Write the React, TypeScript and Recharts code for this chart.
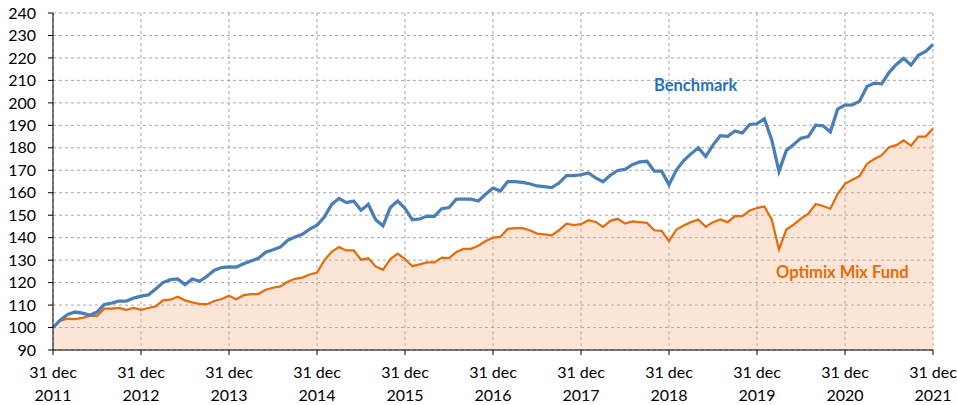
import React from "react";
import {
  ComposedChart,
  Area,
  Line,
  XAxis,
  YAxis,
  CartesianGrid,
} from "recharts";

// Month-end values, 31 dec 2011 = 100
const benchmark = [
  100, 103.4, 105.8, 106.9, 106.4, 105.5, 106.9, 110.3, 110.9, 111.8, 111.8, 113.1,
  114.0, 114.5, 117.2, 120, 121.3, 121.6, 119.1, 121.6, 120.6, 122.8, 125.5, 126.7,
  127, 126.9, 128.4, 129.6, 130.8, 133.5, 134.6, 135.8, 138.8, 140.3, 141.5, 143.8,
  145.6, 149.2, 154.8, 157.5, 155.6, 156.3, 152.2, 154.8, 148, 145.3, 153.4, 156.3,
  153, 148, 148.3, 149.6, 149.5, 152.9, 153.4, 157.1, 157.1, 157.1, 156.3, 159.3,
  162.1, 160.8, 164.9, 164.9, 164.6, 164, 163, 162.7, 162.3, 164.3, 167.6, 167.6,
  168, 168.8, 166.6, 164.9, 167.8, 169.9, 170.4, 172.5, 173.7, 174, 169.6, 169.6,
  163.6, 170.1, 174.3, 177.3, 180, 176.1, 181.2, 185.4, 185.1, 187.5, 186.6, 190.4,
  190.7, 192.9, 183.6, 169.5, 178.8, 181.5, 184.3, 185, 190.1, 189.8, 187.1, 197.2,
  199, 199.1, 200.8, 207.3, 208.8, 208.5, 213.5, 217.1, 219.8, 216.8, 221.2, 222.9,
  226,
];

const optimix = [
  100, 103.1, 104, 103.7, 104.3, 105.2, 105.2, 108.4, 108.4, 108.7, 107.9, 108.7,
  107.9, 108.7, 109.4, 112.1, 112.4, 113.7, 112.1, 111.2, 110.4, 110.4, 111.8, 112.7,
  114.2, 112.6, 114.4, 114.9, 114.9, 116.8, 117.7, 118.3, 120.4, 121.7, 122.2, 123.6,
  124.5, 129.9, 133.7, 135.8, 134.3, 134.3, 130.2, 130.8, 127.2, 125.7, 130.5, 132.9,
  130.5, 127.3, 128.1, 129, 129, 131.1, 130.9, 133.6, 135, 135, 136.4, 138.5,
  140, 140.3, 143.9, 144.2, 144.2, 143.3, 141.8, 141.5, 141, 143.3, 146.2, 145.6,
  146, 147.8, 147, 144.8, 147.5, 148.4, 146.3, 147.2, 146.9, 146.6, 143.3, 143,
  138.5, 143.6, 145.4, 146.9, 148.1, 144.8, 146.9, 148.1, 146.9, 149.6, 149.6, 152.1,
  153.2, 153.9, 148.1, 134.8, 143.6, 145.8, 148.5, 150.7, 155, 154.1, 152.9, 159.5,
  164, 165.8, 167.5, 172.9, 175, 176.7, 180.3, 181.2, 183.3, 180.9, 185, 185,
  188.6,
];

const years = ["2011", "2012", "2013", "2014", "2015", "2016", "2017", "2018", "2019", "2020", "2021"];
const yTicks = [90, 100, 110, 120, 130, 140, 150, 160, 170, 180, 190, 200, 210, 220, 230, 240];

const FONT = "Lato, 'Open Sans', sans-serif";

const data = benchmark.map((b, i) => ({ m: i, benchmark: b, optimix: optimix[i] }));
const xTicks = years.map((_, i) => i * 12);

function YearTick({ x, y, payload }: any) {
  const year = years[Math.round(payload.value / 12)];
  return (
    <text x={x} y={y} textAnchor="middle" fill="#000" fontSize={16} fontFamily={FONT}>
      <tspan x={x} dy={21}>31 dec</tspan>
      <tspan x={x} dy={23}>{year}</tspan>
    </text>
  );
}

export default function App() {
  return (
    <div style={{ position: "absolute", left: 0, top: 0, width: 957, height: 405, background: "#fff" }}>
      <ComposedChart
        width={957}
        height={405}
        data={data}
        margin={{ top: 13, right: 24, bottom: 5, left: 0 }}
      >
        <CartesianGrid stroke="#A6A6A6" strokeDasharray="3 3" />
        <XAxis
          dataKey="m"
          type="number"
          domain={[0, 120]}
          ticks={xTicks}
          interval={0}
          height={50}
          tickSize={5}
          axisLine={{ stroke: "#000" }}
          tickLine={{ stroke: "#000" }}
          tick={<YearTick />}
        />
        <YAxis
          domain={[90, 240]}
          ticks={yTicks}
          interval={0}
          width={53}
          tickSize={5}
          tickMargin={12}
          axisLine={{ stroke: "#000" }}
          tickLine={{ stroke: "#000" }}
          tick={{ fill: "#000", fontSize: 16, fontFamily: FONT }}
        />
        <Area
          type="linear"
          dataKey="optimix"
          stroke="#E46C0A"
          strokeWidth={2.25}
          fill="#F5A576"
          fillOpacity={0.3}
          baseValue={90}
          isAnimationActive={false}
        />
        <Line
          type="linear"
          dataKey="benchmark"
          stroke="#4A7EBB"
          strokeWidth={3.25}
          dot={false}
          isAnimationActive={false}
        />
      </ComposedChart>
      <div
        style={{
          position: "absolute",
          left: 654,
          top: 75,
          fontFamily: FONT,
          fontWeight: 700,
          fontSize: 16.5,
          color: "#1F70C1",
        }}
      >
        Benchmark
      </div>
      <div
        style={{
          position: "absolute",
          left: 776,
          top: 262,
          fontFamily: FONT,
          fontWeight: 700,
          fontSize: 16.5,
          color: "#E46C0A",
        }}
      >
        Optimix Mix Fund
      </div>
    </div>
  );
}
